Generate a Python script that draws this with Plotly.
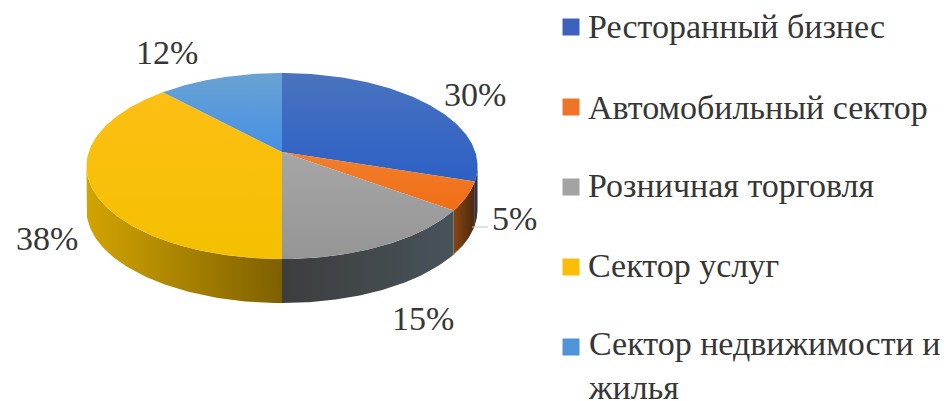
import numpy as np
import plotly.graph_objects as go

# --- data ---
categories = ["Ресторанный бизнес", "Автомобильный сектор", "Розничная торговля",
              "Сектор услуг", "Сектор недвижимости и<br>жилья"]
shares = [30, 5, 15, 38, 12]
labels = ["30%", "5%", "15%", "38%", "12%"]

# --- styling ---
legend_colors = ["#3a62be", "#ed7428", "#a3a3a3", "#fbbe08", "#4f93d8"]
top_colors = [("#4a73bf", "#2c60c6"), ("#f27f2c", "#f06d14"), ("#a6a6a6", "#959595"),
              ("#fdbf14", "#f4c000"), ("#6aa3d2", "#458fe6")]
side_colors = [("#2a3550", "#2a3550"), ("#8a4410", "#4a2a12"), ("#3d3d3d", "#47535a"),
               ("#d2a400", "#7e6000"), ("#3a6a99", "#3a6a99")]
label_pos = [(475, 94), (514, 218), (423, 318), (47, 238), (167, 52)]
legend_y = [27, 107, 187, 267, 347]
text_y = [26, 107, 185, 265, 365]
FONT = "Liberation Serif"
TEXT = "#363636"
FSIZE = 34

# --- projection of a tilted disc ---
CX, CY, AX, BY, P, DEPTH = 282, 152, 193.3, 90.9, 0.1507, 44


def project(theta):
    w = 1 + P * np.cos(theta)
    return CX + AX * np.sin(theta) / w, CY - BY * np.cos(theta) / w


edges = np.radians(np.cumsum([0] + shares) * 3.6)
vis_lo, vis_hi = np.arccos(-P), 2 * np.pi - np.arccos(-P)

fig = go.Figure()

# sides first
for i in range(len(shares)):
    a, b = max(edges[i], vis_lo), min(edges[i + 1], vis_hi)
    if b <= a:
        continue
    t = np.linspace(a, b, 80)
    x, y = project(t)
    fig.add_trace(go.Scatter(
        x=np.r_[x, x[::-1], x[0]], y=np.r_[y, y[::-1] + DEPTH, y[0]],
        mode="lines", line=dict(width=0), fill="toself", showlegend=False, hoverinfo="skip",
        fillcolor=side_colors[i][0],
        fillgradient=dict(type="horizontal",
                          colorscale=[[0, side_colors[i][0]], [1, side_colors[i][1]]])))

# top faces
for i in range(len(shares)):
    t = np.linspace(edges[i], edges[i + 1], 120)
    x, y = project(t)
    fig.add_trace(go.Scatter(
        x=np.r_[CX, x, CX], y=np.r_[CY, y, CY],
        mode="lines", line=dict(width=0), fill="toself", showlegend=False, hoverinfo="skip",
        fillcolor=top_colors[i][0],
        fillgradient=dict(type="vertical",
                          colorscale=[[0, top_colors[i][1]], [1, top_colors[i][0]]])))

# legend swatches
fig.add_trace(go.Scatter(x=[571] * len(categories), y=legend_y, mode="markers",
                         showlegend=False, hoverinfo="skip",
                         marker=dict(symbol="square", size=17, color=legend_colors, line=dict(width=0))))
for name, y in zip(categories, text_y):
    fig.add_annotation(x=586, y=y, text=name, showarrow=False, xanchor="left", yanchor="middle",
                       align="left", font=dict(family=FONT, size=FSIZE, color=TEXT))

# 5% leader line
fig.add_shape(type="line", x0=472, x1=488, y0=227, y1=227, line=dict(color="#b8c4d0", width=1))

for txt, (x, y) in zip(labels, label_pos):
    fig.add_annotation(x=x, y=y, text=txt, showarrow=False,
                       font=dict(family=FONT, size=FSIZE, color=TEXT))

fig.update_layout(
    width=950, height=401, margin=dict(l=0, r=0, t=0, b=0),
    paper_bgcolor="white", plot_bgcolor="white", showlegend=False,
    xaxis=dict(range=[0, 950], visible=False, fixedrange=True),
    yaxis=dict(range=[401, 0], visible=False, fixedrange=True),
)
fig.write_html("out.html", config={"displayModeBar": False},
               post_script="document.body.style.margin='0';document.documentElement.style.overflow='hidden';")
